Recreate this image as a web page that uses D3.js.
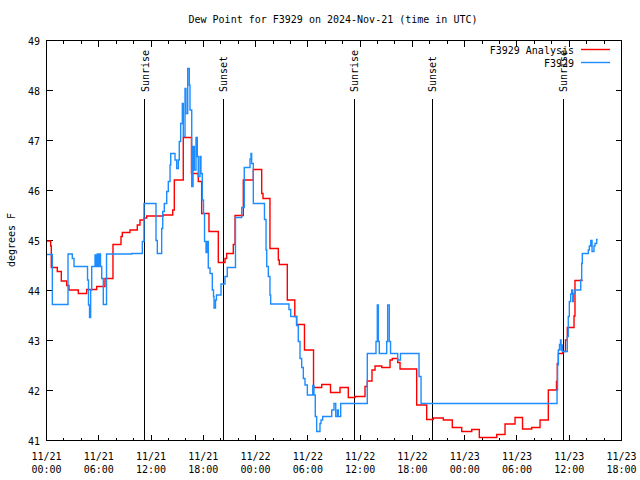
<!DOCTYPE html>
<html>
<head>
<meta charset="utf-8">
<script src="https://cdn.jsdelivr.net/npm/d3@7"></script>
<style>
html,body{margin:0;padding:0;background:#fff;}
svg{display:block;}
text{font-family:"DejaVu Sans Mono",monospace;font-size:10px;fill:#000;}
</style>
</head>
<body>
<svg id="chart" width="640" height="480"></svg>
<script>
// ---------- data (hours since 2024-11-21 00:00 UTC) ----------
const titleText = "Dew Point for F3929 on 2024-Nov-21 (time in UTC)";
const yLabelText = "degrees F";
const seriesNames = ["F3929 Analysis", "F3929"];

const xTickHours = [0, 6, 12, 18, 24, 30, 36, 42, 48, 54, 60, 66];
const xTickDates = ["11/21","11/21","11/21","11/21","11/22","11/22","11/22","11/22","11/23","11/23","11/23","11/23"];
const xTickTimes = ["00:00","06:00","12:00","18:00","00:00","06:00","12:00","18:00","00:00","06:00","12:00","18:00"];
const yTicks = [41, 42, 43, 44, 45, 46, 47, 48, 49];

const sunLabels = ["Sunrise", "Sunset", "Sunrise", "Sunset", "Sunrise"];
const sunHours = [11.25, 20.28, 35.33, 44.28, 59.32];

const analysisHours = [0, 0.48, 0.55, 1.24, 1.70, 2.32, 2.58, 3.65, 4.61, 5.76, 6.71, 7.63, 8.55, 8.70, 9.58, 10.42, 10.73, 11.19, 11.50, 13.41, 14.49, 14.67, 15.70, 16.64, 17.42, 17.81, 18.65, 19.72, 20.49, 20.68, 21.44, 21.64, 22.59, 23.74, 24.70, 24.85, 25.65, 26.61, 26.72, 27.64, 28.50, 28.70, 29.61, 30.65, 31.59, 32.60, 33.69, 34.64, 35.41, 36.56, 36.82, 37.36, 37.71, 38.48, 39.43, 39.69, 40.31, 40.58, 42.49, 43.64, 44.40, 45.55, 46.58, 47.66, 48.81, 49.68, 51.68, 52.63, 53.78, 54.64, 55.69, 56.65, 57.60, 58.54, 58.63, 58.75, 59.25, 59.57, 59.78, 60.55, 60.66, 61.55];
const analysisValues = [44.99, 44.89, 44.46, 44.38, 44.19, 44.10, 44.01, 43.94, 44.02, 44.08, 44.24, 44.92, 45.08, 45.16, 45.21, 45.31, 45.41, 45.45, 45.49, 45.51, 45.61, 46.21, 47.06, 46.34, 46.18, 45.54, 45.18, 44.56, 44.64, 44.74, 44.92, 45.50, 46.21, 46.42, 45.94, 45.84, 44.84, 44.61, 44.52, 43.81, 43.48, 43.32, 42.81, 42.06, 42.12, 41.96, 42.06, 41.86, 41.88, 42.08, 42.19, 42.41, 42.49, 42.46, 42.61, 42.64, 42.56, 42.43, 41.71, 41.42, 41.45, 41.41, 41.26, 41.18, 41.22, 41.06, 41.12, 41.33, 41.46, 41.23, 41.26, 41.41, 42.01, 42.18, 42.54, 42.74, 42.78, 43.01, 43.26, 43.49, 44.20, 44.20];

const obsHours = [0, 0.67, 2.47, 2.96, 3.16, 4.71, 4.82, 4.94, 5.07, 5.19, 5.57, 5.68, 5.83, 5.97, 6.08, 6.20, 6.34, 6.52, 6.89, 9.78, 11.00, 11.19, 12.57, 12.72, 13.22, 13.34, 13.52, 13.80, 13.98, 14.18, 14.26, 14.75, 14.94, 15.13, 15.24, 15.40, 15.59, 15.70, 15.90, 16.01, 16.21, 16.39, 16.47, 16.67, 16.82, 16.97, 17.16, 17.31, 17.42, 17.62, 17.73, 17.88, 18.02, 18.14, 18.31, 18.46, 18.57, 18.77, 19.03, 19.17, 19.23, 19.40, 19.51, 20.03, 20.49, 20.75, 21.69, 22.41, 22.70, 23.36, 23.47, 23.55, 23.74, 25.02, 25.20, 25.28, 25.46, 25.65, 25.73, 27.83, 28.03, 28.72, 28.90, 29.10, 29.29, 29.48, 29.67, 29.94, 30.56, 30.70, 30.85, 31.01, 31.39, 31.51, 31.70, 32.74, 33.00, 33.20, 33.39, 33.49, 33.77, 36.82, 37.82, 37.97, 38.09, 38.20, 39.05, 39.16, 39.35, 39.49, 40.31, 40.63, 42.76, 42.99, 58.60, 58.66, 58.75, 58.88, 59.00, 59.06, 59.14, 59.21, 59.78, 59.89, 60.01, 60.17, 60.28, 60.40, 60.47, 60.66, 61.32, 61.43, 61.50, 62.19, 62.31, 62.47, 62.62, 62.84, 62.96, 63.15, 63.27];
const obsValues = [44.72, 43.72, 44.73, 44.64, 44.48, 44.21, 43.71, 43.46, 44.01, 44.48, 44.71, 44.48, 44.73, 44.48, 44.73, 44.48, 44.24, 43.72, 44.73, 44.74, 44.98, 45.74, 45.00, 44.74, 45.24, 45.58, 45.74, 45.98, 46.18, 46.51, 46.74, 46.61, 46.44, 46.61, 46.98, 47.34, 47.74, 47.08, 48.04, 47.54, 48.44, 48.11, 47.61, 46.08, 46.88, 46.41, 47.06, 46.68, 46.28, 46.68, 46.34, 45.81, 45.54, 44.98, 44.76, 44.98, 44.45, 44.34, 44.01, 43.88, 43.65, 43.81, 43.91, 44.13, 44.28, 44.46, 45.46, 45.66, 46.46, 46.63, 46.74, 46.54, 45.74, 45.42, 44.81, 44.48, 44.28, 43.91, 43.73, 43.62, 43.48, 43.30, 42.98, 42.64, 42.46, 42.24, 42.11, 41.91, 42.10, 41.91, 41.48, 41.18, 41.34, 41.41, 41.48, 41.61, 41.74, 41.48, 41.61, 41.48, 41.74, 42.74, 42.98, 43.71, 42.98, 42.74, 42.98, 43.71, 42.98, 42.74, 42.61, 42.74, 42.28, 41.74, 42.01, 42.51, 42.81, 42.92, 43.01, 42.81, 42.91, 42.78, 43.08, 43.48, 43.78, 43.93, 44.01, 43.78, 43.94, 44.01, 44.21, 44.54, 44.74, 44.81, 44.89, 45.00, 44.78, 44.89, 44.94, 45.02, 45.02];

// ---------- layout ----------
const svg = d3.select("#chart");
const L = 46.5, R = 621.5, T = 40.5, B = 440.5;
const x = d3.scaleLinear().domain([0, 66]).range([L, R]);
const y = d3.scaleLinear().domain([41, 49]).range([B, T]);
const redColor = "#ff0000", blueColor = "#1e8cff";

// title
svg.append("text").attr("x", 333).attr("y", 23).attr("text-anchor", "middle").text(titleText);
// y label
svg.append("text").attr("transform", "translate(15,240) rotate(-90)").attr("text-anchor", "middle").text(yLabelText);

// ticks (major every 6h, minor every 2h)
const g = svg.append("g").attr("shape-rendering", "crispEdges").attr("stroke", "#000");
const minorHours = d3.range(0, 67, 2).filter(h => h % 6 !== 0);
xTickHours.forEach(h => {
  g.append("line").attr("x1", x(h)).attr("x2", x(h)).attr("y1", B).attr("y2", B - 6);
  g.append("line").attr("x1", x(h)).attr("x2", x(h)).attr("y1", T).attr("y2", T + 6);
});
minorHours.forEach(h => {
  g.append("line").attr("x1", x(h)).attr("x2", x(h)).attr("y1", B).attr("y2", B - 3);
  g.append("line").attr("x1", x(h)).attr("x2", x(h)).attr("y1", T).attr("y2", T + 3);
});
yTicks.forEach(v => {
  g.append("line").attr("x1", L).attr("x2", L + 6).attr("y1", y(v)).attr("y2", y(v));
  g.append("line").attr("x1", R).attr("x2", R - 6).attr("y1", y(v)).attr("y2", y(v));
});

// tick labels
xTickHours.forEach((h, i) => {
  svg.append("text").attr("x", x(h)).attr("y", 460).attr("text-anchor", "middle").text(xTickDates[i]);
  svg.append("text").attr("x", x(h)).attr("y", 473).attr("text-anchor", "middle").text(xTickTimes[i]);
});
yTicks.forEach(v => {
  svg.append("text").attr("x", 40).attr("y", y(v) + 4).attr("text-anchor", "end").text(v);
});

// sunrise / sunset markers
sunHours.forEach((h, i) => {
  svg.append("line").attr("x1", x(h)).attr("x2", x(h)).attr("y1", 99).attr("y2", B)
    .attr("stroke", "#000").attr("stroke-width", 1.2).attr("shape-rendering", "crispEdges");
  svg.append("text").attr("transform", `translate(${x(h) + 4},92) rotate(-90)`)
    .attr("text-anchor", "start").text(sunLabels[i]);
});

// series (analysis first, observations on top)
const line = d3.line().curve(d3.curveStepAfter).x(d => x(d[0])).y(d => y(d[1]));
const analysis = analysisHours.map((h, i) => [h, analysisValues[i]]);
const obs = obsHours.map((h, i) => [h, obsValues[i]]);

svg.append("path").datum(analysis).attr("d", line).attr("fill", "none")
  .attr("stroke", redColor).attr("stroke-width", 1.4);
svg.append("path").datum(obs).attr("d", line).attr("fill", "none")
  .attr("stroke", blueColor).attr("stroke-width", 1.4);

// legend
const legY = [49.5, 62.5];
const legColors = [redColor, blueColor];
seriesNames.forEach((n, i) => {
  svg.append("text").attr("x", 574).attr("y", legY[i] + 4).attr("text-anchor", "end").text(n);
  svg.append("line").attr("x1", 581).attr("x2", 610).attr("y1", legY[i]).attr("y2", legY[i])
    .attr("stroke", legColors[i]).attr("stroke-width", 1.4);
});

// frame
svg.append("rect").attr("x", L).attr("y", T).attr("width", R - L).attr("height", B - T)
  .attr("fill", "none").attr("stroke", "#000").attr("shape-rendering", "crispEdges");
</script>
</body>
</html>
